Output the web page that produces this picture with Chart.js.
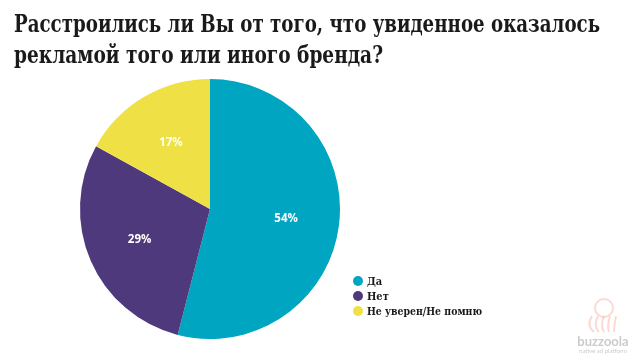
<!DOCTYPE html>
<html>
<head>
<meta charset="utf-8">
<script src="https://cdn.jsdelivr.net/npm/chart.js@4"></script>
<style>
  html, body { margin: 0; padding: 0; background: #fff; }
  #wrap { position: relative; width: 640px; height: 361px; }
</style>
</head>
<body>
<div id="wrap"><canvas id="pieChart" width="640" height="361"></canvas></div>
<script>
const titleLines = ['Расстроились ли Вы от того, что увиденное оказалось', 'рекламой того или иного бренда?'];
const categories = ['Да', 'Нет', 'Не уверен/Не помню'];
const shares = [54, 29, 17];
const colors = ['#00a5c1', '#4e397c', '#efe145'];

// title, legend, slice labels and watermark drawn on the canvas
const decorPlugin = {
    id: 'decor',
    afterDraw(chart) {
        const ctx = chart.ctx;
        ctx.save();

        // title
        ctx.fillStyle = '#1a1a1a';
        ctx.textBaseline = 'alphabetic';
        ctx.textAlign = 'left';
        ctx.font = 'bold 24px "DejaVu Serif Condensed", "DejaVu Serif", serif';
        ctx.fillText(titleLines[0], 14, 32, 586);
        ctx.fillText(titleLines[1], 14, 63, 369);

        // percent labels inside slices
        const meta = chart.getDatasetMeta(0);
        ctx.fillStyle = '#ffffff';
        ctx.font = 'bold 11.5px "Open Sans", Lato, sans-serif';
        ctx.textAlign = 'center';
        ctx.textBaseline = 'middle';
        meta.data.forEach((arc, i) => {
            const p = arc.getProps(['x', 'y', 'startAngle', 'endAngle', 'outerRadius'], true);
            const mid = (p.startAngle + p.endAngle) / 2;
            const r = p.outerRadius * 0.59;
            ctx.fillText(shares[i] + '%', p.x + Math.cos(mid) * r, p.y + Math.sin(mid) * r);
        });

        // legend
        ctx.textAlign = 'left';
        ctx.font = 'bold 11px "DejaVu Serif Condensed", "DejaVu Serif", serif';
        categories.forEach((c, i) => {
            const y = 281 + i * 15;
            ctx.fillStyle = colors[i];
            ctx.beginPath();
            ctx.arc(358, y, 5, 0, Math.PI * 2);
            ctx.fill();
            ctx.fillStyle = '#1a1a1a';
            ctx.fillText(c, 367, y + 1, c.length > 5 ? 115 : 40);
        });

        // watermark
        ctx.textAlign = 'center';
        ctx.fillStyle = 'rgba(160,160,160,0.55)';
        ctx.font = 'bold 13px Lato, sans-serif';
        ctx.fillText('buzzoola', 603, 342);
        ctx.font = '6px Lato, sans-serif';
        ctx.fillText('native ad platform', 603, 351);
        ctx.strokeStyle = 'rgba(240,150,130,0.35)';
        ctx.lineWidth = 2;
        ctx.beginPath();
        ctx.arc(604, 308, 9, 0, Math.PI * 2);
        ctx.stroke();
        for (let k = 0; k < 5; k++) {
            ctx.beginPath();
            ctx.moveTo(592 + k * 6, 316);
            ctx.quadraticCurveTo(586 + k * 7, 326, 594 + k * 5, 332);
            ctx.stroke();
        }

        ctx.restore();
    }
};

new Chart(document.getElementById('pieChart').getContext('2d'), {
    type: 'pie',
    data: {
        labels: categories,
        datasets: [{
            data: shares,
            backgroundColor: colors,
            borderWidth: 0
        }]
    },
    options: {
        responsive: false,
        animation: false,
        layout: {
            padding: { left: 80, right: 300, top: 79, bottom: 22 }
        },
        plugins: {
            legend: { display: false },
            title: { display: false },
            tooltip: { enabled: false }
        }
    },
    plugins: [decorPlugin]
});
</script>
</body>
</html>
